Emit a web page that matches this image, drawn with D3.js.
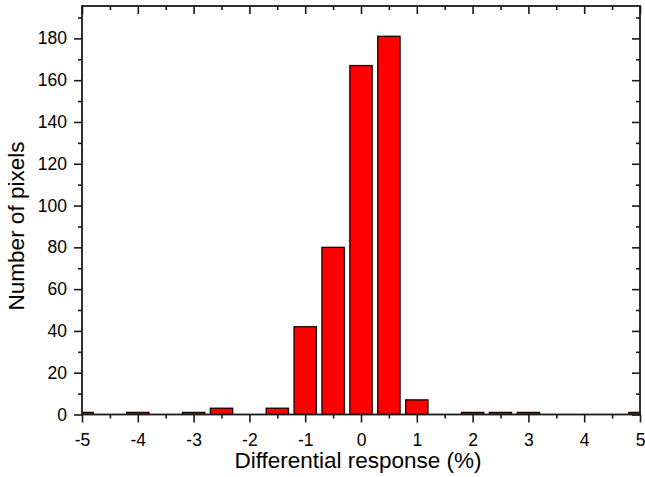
<!DOCTYPE html>
<html><head><meta charset="utf-8">
<script src="https://cdn.jsdelivr.net/npm/d3@7"></script>
<style>body{margin:0;background:#fff}svg{display:block;font-family:Arial,"Liberation Sans",sans-serif}</style>
</head><body><svg id="c" width="645" height="477"></svg>
<script>
const binCenters = [-5,-4.5,-4,-3.5,-3,-2.5,-2,-1.5,-1,-0.5,0,0.5,1,1.5,2,2.5,3,3.5,4,4.5,5];
const counts     = [1,0,1,0,1,3,0,3,42,80,167,181,7,0,1,1,1,0,0,0,1];
const xTicks = [-5,-4,-3,-2,-1,0,1,2,3,4,5];
const yTicks = [0,20,40,60,80,100,120,140,160,180];
const xLabel = "Differential response (%)";
const yLabel = "Number of pixels";

const svg = d3.select("#c");
const L=82, R=640, T=6, B=414.5;
const x = d3.scaleLinear().domain([-5,5]).range([L,R]);
const y = d3.scaleLinear().domain([0,195.5]).range([B,T]);
const binW = 0.4;

const defs = svg.append("defs");
defs.append("clipPath").attr("id","clip").append("rect").attr("x",L).attr("y",T).attr("width",R-L).attr("height",B-T);

const data = binCenters.map((c,i)=>({c, v:counts[i]})).filter(d=>d.v>0);
svg.append("g").attr("clip-path","url(#clip)").selectAll("rect").data(data).join("rect")
  .attr("x",d=>x(d.c-binW/2)).attr("width",d=>x(d.c+binW/2)-x(d.c-binW/2))
  .attr("y",d=>y(d.v)).attr("height",d=>y(0)-y(d.v))
  .attr("fill","#ff0000").attr("stroke","#1a0000").attr("stroke-width",1.3);

const col="#1a1a1a";
function style(g){ g.select(".domain").remove(); g.selectAll("line").attr("stroke",col).attr("stroke-width",1.6); g.selectAll("text").attr("fill","#000").attr("font-size",17.5); }
const fmt = d => String(d);

const xMinor = d3.range(-4.5,5,1);
const yMinor = d3.range(10,195,20);

// bottom
svg.append("g").attr("transform",`translate(0,${B})`).call(d3.axisBottom(x).tickValues(xTicks).tickFormat(fmt).tickSize(8).tickPadding(11)).call(style);
svg.append("g").attr("transform",`translate(0,${B})`).call(d3.axisBottom(x).tickValues(xMinor).tickFormat("").tickSize(4)).call(style);
// top (inward)
svg.append("g").attr("transform",`translate(0,${T})`).call(d3.axisBottom(x).tickValues(xTicks).tickFormat("").tickSize(8)).call(style);
svg.append("g").attr("transform",`translate(0,${T})`).call(d3.axisBottom(x).tickValues(xMinor).tickFormat("").tickSize(4)).call(style);
// left
svg.append("g").attr("transform",`translate(${L},0)`).call(d3.axisLeft(y).tickValues(yTicks).tickFormat(fmt).tickSize(8).tickPadding(7)).call(style);
svg.append("g").attr("transform",`translate(${L},0)`).call(d3.axisLeft(y).tickValues(yMinor).tickFormat("").tickSize(4)).call(style);
// right (inward)
svg.append("g").attr("transform",`translate(${R},0)`).call(d3.axisLeft(y).tickValues(yTicks).tickFormat("").tickSize(8)).call(style);
svg.append("g").attr("transform",`translate(${R},0)`).call(d3.axisLeft(y).tickValues(yMinor).tickFormat("").tickSize(4)).call(style);

svg.append("rect").attr("x",L).attr("y",T).attr("width",R-L).attr("height",B-T)
  .attr("fill","none").attr("stroke",col).attr("stroke-width",1.8);

svg.append("text").attr("x",358).attr("y",468).attr("text-anchor","middle").attr("font-size",22.5).text(xLabel);
svg.append("text").attr("transform",`translate(24,226) rotate(-90)`).attr("text-anchor","middle").attr("font-size",22.5).text(yLabel);
</script></body></html>
